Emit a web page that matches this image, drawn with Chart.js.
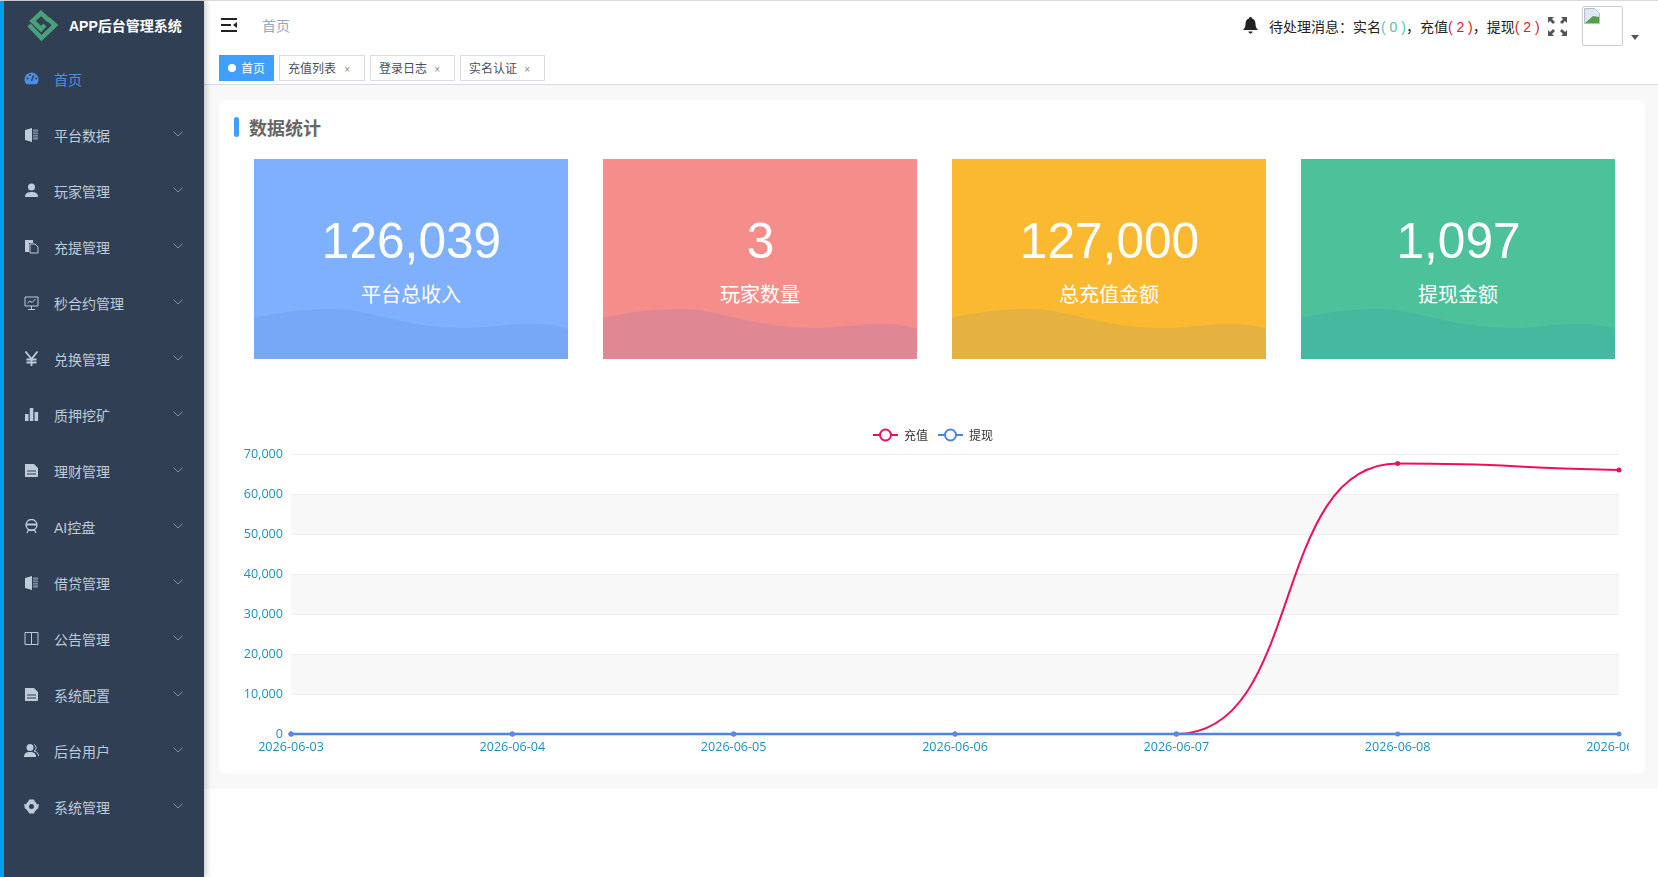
<!DOCTYPE html>
<html lang="zh">
<head>
<meta charset="utf-8">
<title>APP后台管理系统</title>
<script src="https://cdn.jsdelivr.net/npm/chart.js@4"></script>
<style>
* { box-sizing: border-box; }
html, body { margin: 0; width: 1658px; height: 877px; overflow: hidden; background: #fff; font-family: "Liberation Sans", "Noto Sans CJK SC", sans-serif; }
.abs { position: absolute; white-space: nowrap; }
#topline { left: 0; top: 0; width: 1658px; height: 1px; background: #ddd; }
#side { left: 0; top: 1px; width: 204px; height: 876px; background: #303f54; box-shadow: 2px 0 6px rgba(0,0,0,.22); z-index: 3; }
#strip { left: 0; top: 1px; width: 4px; height: 876px; background: #00a0e9; z-index: 4; }
#brand { left: 69px; top: 15px; font-size: 14px; font-weight: bold; color: #fff; z-index: 4; }
.menu-text { left: 54px; font-size: 14px; line-height: 20px; color: #bfcbd9; z-index: 4; }
.menu-icon { left: 24px; width: 15px; height: 15px; z-index: 4; }
.chev { left: 173px; width: 10px; height: 6px; z-index: 4; }
#header { left: 204px; top: 1px; width: 1454px; height: 51px; background: #fff; box-shadow: 0 1px 4px rgba(0,21,41,.06); }
#tagsbar { left: 204px; top: 52px; width: 1454px; height: 33px; background: #fff; border-bottom: 1px solid #d8dce5; }
.tag { top: 55px; height: 26px; line-height: 26px; border: 1px solid #d8dce5; background: #fff; color: #495060; font-size: 12px; padding-left: 8px; }
.tag i { font-style: normal; font-size: 10px; color: #888; position: absolute; right: 14px; top: 1px; }
#tag0 { background: #409eff; border-color: #409eff; color: #fff; padding-left: 21px; }
#tag0 b { position: absolute; left: 8px; top: 8px; width: 8px; height: 8px; border-radius: 50%; background: #fff; }
#crumb { left: 262px; top: 16px; font-size: 14px; line-height: 20px; color: #97a8be; }
#notice { left: 1269px; top: 17px; font-size: 14px; line-height: 20px; color: #222; }
#notice .g { color: #5fbf9f; }
#notice .r { color: #e02020; }
#avatar { left: 1582px; top: 6px; width: 41px; height: 40px; border: 1px solid #ccc; border-radius: 2px; }
#caret { left: 1631px; top: 35px; width: 0; height: 0; border: 4px solid transparent; border-top: 5px solid #555; }
#content { left: 204px; top: 85px; width: 1454px; height: 704px; background: #f8f8f9; }
#card { left: 219px; top: 100px; width: 1426px; height: 674px; background: #fff; border-radius: 8px; }
#titlebar { left: 234px; top: 117px; width: 5px; height: 20px; border-radius: 3px; background: #409eff; }
#title { left: 249px; top: 116px; font-size: 18px; line-height: 26px; font-weight: bold; color: #666; }
.stat { top: 159px; width: 314px; height: 200px; overflow: hidden; color: #fff; text-align: center; }
.stat svg { position: absolute; left: 0; top: 0; }
.stat .num { position: absolute; left: 0.5px; width: 100%; top: 53px; font-size: 49.6px; line-height: 58px; }
.stat .lab { position: absolute; left: 0; width: 100%; top: 122px; font-size: 20px; line-height: 28px; }
#chartBox { left: 235px; top: 419px; width: 1394px; height: 345px; }
</style>
</head>
<body>
<div class="abs" id="topline"></div>
<div class="abs" id="content"></div>
<div class="abs" id="card"></div>
<div class="abs" id="header"></div>
<div class="abs" id="tagsbar"></div>
<div class="abs" id="side"></div>
<div class="abs" id="strip"></div>
<svg class="abs" style="left:20px;top:5px;z-index:4" width="44" height="40" viewBox="20 5 44 40"><path d="M29 25 L41.500 38 L55 25 L48 19" fill="none" stroke="#4aa078" stroke-width="4.500"/><path d="M49 20.500 L41 13 L32.500 21 L41 29 L45 25" fill="none" stroke="#4aa078" stroke-width="4.500"/></svg>
<div class="abs" id="brand">APP后台管理系统</div>
<svg class="abs" style="left:221px;top:18px" width="16" height="15" viewBox="0 0 16 15"><path d="M0 1h16M0 7h10M0 13h16" stroke="#222" stroke-width="2"/><path d="M16 4v6l-4-3z" fill="#222"/></svg>
<div class="abs" id="crumb">首页</div>
<svg class="abs" style="left:1243px;top:17px" width="15" height="17" viewBox="0 0 15 17"><path d="M7.500 0c1 0 1.500.7 1.500 1.500 2.500.7 3.500 3 3.500 5.500 0 3 1 4.500 2.500 6H0c1.500-1.500 2.500-3 2.500-6 0-2.500 1-4.800 3.500-5.500C6 .7 6.500 0 7.500 0zM5.500 14.500h4c0 1.200-1 2-2 2s-2-.8-2-2z" fill="#222"/></svg>
<div class="abs" id="notice">待处理消息：实名<span class="g">( 0 )</span>，充值<span class="r">( 2 )</span>，提现<span class="r">( 2 )</span></div>
<svg class="abs" style="left:1548px;top:17px" width="19" height="19" viewBox="0 0 19 19"><path d="M0 0h6l-2 2 3 3-2 2-3-3-2 2zM19 0v6l-2-2-3 3-2-2 3-3-2-2zM0 19v-6l2 2 3-3 2 2-3 3 2 2zM19 19h-6l2-2-3-3 2-2 3 3 2-2z" fill="#555"/></svg>
<div class="abs" id="avatar"><svg style="position:absolute;left:1px;top:1px" width="16" height="16" viewBox="0 0 16 16"><path d="M.5.5h10l5 5v10H.5z" fill="#dfe7f5" stroke="#b8bcc4"/><path d="M1 15L9 8l6 1v6z" fill="#55a04a"/></svg></div>
<div class="abs" id="caret"></div>
<div class="abs" id="titlebar"></div>
<div class="abs" id="title">数据统计</div>
<div class="abs" id="chartBox"><canvas id="lineChart"></canvas></div>

<script>
// chart data
const categories = ["2026-06-03", "2026-06-04", "2026-06-05", "2026-06-06", "2026-06-07", "2026-06-08", "2026-06-09"];
const rechargeValues = [0, 0, 0, 0, 0, 67600, 66000];
const withdrawValues = [0, 0, 0, 0, 0, 0, 0];
const seriesNames = ["充值", "提现"];
const yMax = 70000;
const yStep = 10000;
const shadedBands = [[50000, 60000], [30000, 40000], [10000, 20000]];

// page text
const menuLabels = ["首页", "平台数据", "玩家管理", "充提管理", "秒合约管理", "兑换管理", "质押挖矿", "理财管理", "AI控盘", "借贷管理", "公告管理", "系统配置", "后台用户", "系统管理"];
const tagLabels = ["首页", "充值列表", "登录日志", "实名认证"];
const statValues = ["126,039", "3", "127,000", "1,097"];
const statLabels = ["平台总收入", "玩家数量", "总充值金额", "提现金额"];

const RED = "#ee0f58";
const BLUE = "#4a86e0";

const iconPaths = {
    gauge: '<path d="M7.500 1.500a7 7 0 0 0-7 7c0 2 .8 3.500 2 4.800h10c1.200-1.300 2-2.800 2-4.800a7 7 0 0 0-7-7z" fill="C"/><path d="M7.500 10L9.500 4.500" stroke="#303f54" stroke-width="1.500"/><circle cx="3.500" cy="7.500" r="1" fill="#303f54"/><circle cx="6" cy="4" r="1" fill="#303f54"/><circle cx="12" cy="7.500" r="1" fill="#303f54"/>',
    book: '<path d="M1 3l7-2v14l-7-2z" fill="C"/><path d="M9 2.500h5v10H9z" fill="C" opacity=".55"/><path d="M9 5h5M9 7.500h5M9 10h5" stroke="#303f54" stroke-width=".8"/>',
    user: '<circle cx="7.500" cy="4" r="3.500" fill="C"/><path d="M1 14c0-4 3-5 6.500-5s6.500 1 6.500 5z" fill="C"/>',
    files: '<path d="M1 1h8v3H5v9H1z" fill="C"/><path d="M6 5h5l3 3v6H6z" fill="none" stroke="C"/>',
    monitor: '<path d="M1 2h13v9H1zM4 14.500h7M7.500 11v3.500" fill="none" stroke="C"/><path d="M3.500 8l2.500-2 2 1.500 3.500-3.500" fill="none" stroke="C"/>',
    yen: '<path d="M1.500 0.500l6 7.500 6-7.500M7.500 8v7M2.500 8.500h10M2.500 11.500h10" fill="none" stroke="C" stroke-width="1.800"/>',
    bars: '<path d="M1 7h3.500v7H1zM5.800 1h3.500v13H5.800zM10.600 5h3.500v9h-3.500z" fill="C"/>',
    doc: '<path d="M1 1h9l4 4v8a1 1 0 0 1-1 1H1z" fill="C"/><path d="M3 8h9M3 11h9" stroke="#303f54" stroke-width="1.200"/>',
    robot: '<circle cx="7.500" cy="6" r="5.500" fill="none" stroke="C" stroke-width="1.300"/><path d="M2 5.500h11" stroke="C" stroke-width="2"/><path d="M3 14l2-4M12 14l-2-4M5 11h5" fill="none" stroke="C" stroke-width="1.300"/>',
    open: '<path d="M1 1.500h6.500v12H1zM7.500 1.500H14v12H7.500z" fill="none" stroke="C"/>',
    people: '<circle cx="6" cy="4.500" r="3.500" fill="C"/><path d="M0 14c0-4 2.500-5 6-5s6 1 6 5z" fill="C"/><path d="M10 1.500a3.500 3.500 0 0 1 0 6.500c3 .7 4.500 2.500 4.500 5" fill="none" stroke="C"/>',
    gear: '<circle cx="7.500" cy="7.500" r="4.200" fill="none" stroke="C" stroke-width="3.400"/><path d="M5 0.500h5l1 3H4zM5 14.500h5l1-3H4zM0 5l1 5 3-1V6zM15 5l-1 5-3-1V6z" fill="C"/>'
};
const menuIcons = ["gauge", "book", "user", "files", "monitor", "yen", "bars", "doc", "robot", "book", "open", "doc", "people", "gear"];

function addEl(html) {
    const holder = document.createElement("div");
    holder.innerHTML = html;
    const el = holder.firstElementChild;
    document.body.appendChild(el);
    return el;
}

// sidebar
menuLabels.forEach((label, i) => {
    const y = 80 + i * 56;
    const color = i === 0 ? "#4a90e2" : "#bfcbd9";
    addEl(`<div class="abs menu-text" style="top:${y - 10}px;color:${color}">${label}</div>`);
    addEl(`<svg class="abs menu-icon" style="top:${y - 9}px" viewBox="0 0 15 15">${iconPaths[menuIcons[i]].replace(/"C"/g, `"${color}"`)}</svg>`);
    if (i > 0) addEl(`<svg class="abs chev" style="top:${y - 5}px" viewBox="0 0 10 6"><path d="M.5.5L5 5 9.500.5" fill="none" stroke="#7f8da0"/></svg>`);
});

// tags row
const tagLefts = [219, 279, 370, 460];
const tagWidths = [55, 86, 85, 85];
tagLabels.forEach((label, i) => {
    const inner = i === 0 ? `<b></b>${label}` : `${label}<i>×</i>`;
    addEl(`<div class="abs tag" ${i === 0 ? 'id="tag0"' : ""} style="left:${tagLefts[i]}px;width:${tagWidths[i]}px">${inner}</div>`);
});

// stat cards
const cardLefts = [254, 603, 952, 1301];
const cardColors = ["#7eb0fe", "#f58d8b", "#fab930", "#4cc19a"];
const waveColors = ["#77a8f6", "#df8894", "#e5b141", "#46b8a0"];
statValues.forEach((val, i) => {
    addEl(`<div class="abs stat" style="left:${cardLefts[i]}px;background:${cardColors[i]}">
        <svg width="314" height="200" viewBox="0 0 314 200"><path d="M0 159C30 152 55 150 80 150C115 150 150 169 210 169C240 169 250 165 276 165C295 165 305 167 314 170V200H0Z" fill="${waveColors[i]}"/></svg>
        <div class="num">${val}</div><div class="lab">${statLabels[i]}</div></div>`);
});

// legend symbol: short line with a hollow circle
function legendSymbol(color) {
    const c = document.createElement("canvas");
    c.width = 25;
    c.height = 14;
    const g = c.getContext("2d");
    g.strokeStyle = color;
    g.lineWidth = 2;
    g.beginPath(); g.moveTo(0, 7); g.lineTo(25, 7); g.stroke();
    g.fillStyle = "#fff";
    g.beginPath(); g.arc(12.5, 7, 5.5, 0, Math.PI * 2); g.fill(); g.stroke();
    return c;
}

// grey bands behind the grid, every other interval
const bandPlugin = {
    id: "bands",
    beforeDraw(chart) {
        const { ctx, chartArea, scales } = chart;
        ctx.save();
        ctx.fillStyle = "#f8f8f9";
        shadedBands.forEach(([lo, hi]) => {
            const top = scales.y.getPixelForValue(hi);
            ctx.fillRect(chartArea.left, top, chartArea.width, scales.y.getPixelForValue(lo) - top);
        });
        ctx.restore();
    }
};

// the reference curve has longer handles than plain monotone, stretch them
const HANDLE = 0.58;
const widerHandles = {
    id: "widerHandles",
    beforeDatasetDraw(chart, args) {
        const pts = args.meta.dataset.points;
        pts.forEach((p, i) => {
            if (pts[i + 1]) p.cp2x = p.x + (pts[i + 1].x - p.x) * HANDLE;
            if (pts[i - 1]) p.cp1x = p.x - (p.x - pts[i - 1].x) * HANDLE;
        });
    }
};

// legend sits a bit right of the canvas centre and leaves more room below it
const legendNudge = {
    id: "legendNudge",
    beforeInit(chart) {
        const fit = chart.legend.fit;
        chart.legend.fit = function () {
            fit.call(this);
            this.height += 3;
        };
    },
    beforeDraw(chart) {
        chart.legend.left = 12;
    }
};

new Chart(document.getElementById("lineChart"), {
    type: "line",
    data: {
        labels: categories,
        datasets: [
            { label: seriesNames[0], data: rechargeValues, borderColor: RED, backgroundColor: RED, order: 2, clip: false, borderWidth: 2, pointBorderWidth: 0 },
            { label: seriesNames[1], data: withdrawValues, borderColor: BLUE, backgroundColor: "#4f8ef0", order: 1, clip: false, borderWidth: 2.3, pointBorderWidth: 0 }
        ]
    },
    options: {
        responsive: true,
        maintainAspectRatio: false,
        animation: false,
        layout: { padding: { right: 10, top: 0, left: 0, bottom: 0 } },
        elements: {
            line: { cubicInterpolationMode: "monotone" },
            point: { radius: 2.5 }
        },
        plugins: {
            tooltip: { enabled: false },
            legend: {
                position: "top",
                labels: {
                    usePointStyle: true,
                    pointStyleWidth: 25,
                    padding: 10,
                    color: "#333",
                    font: { family: "'Noto Sans CJK SC'", size: 12 },
                    generateLabels: () => seriesNames.map((name, i) => ({
                        text: name,
                        datasetIndex: i,
                        pointStyle: legendSymbol(i === 0 ? RED : BLUE),
                        fontColor: "#333"
                    }))
                }
            }
        },
        scales: {
            x: {
                grid: { display: false, drawTicks: false },
                border: { display: false },
                ticks: { color: "#1a8fc4", font: { family: "'Open Sans'", size: 12.6 }, padding: 6, maxRotation: 0, minRotation: 0, autoSkip: false },
                afterFit(scale) {
                    scale.height = 30;
                    // let the last label run off the canvas like the original
                    scale.paddingLeft = 0;
                    scale.paddingRight = 0;
                }
            },
            y: {
                min: 0,
                max: yMax,
                grid: { color: "#eeeeee", drawTicks: false },
                border: { display: false },
                ticks: {
                    stepSize: yStep,
                    color: "#1a8fc4",
                    font: { family: "'Open Sans'", size: 12.6 },
                    padding: 8,
                    callback: v => v.toLocaleString("en-US")
                },
                afterFit(scale) { scale.width = 56; }
            }
        }
    },
    plugins: [bandPlugin, widerHandles, legendNudge]
});
</script>
</body>
</html>
